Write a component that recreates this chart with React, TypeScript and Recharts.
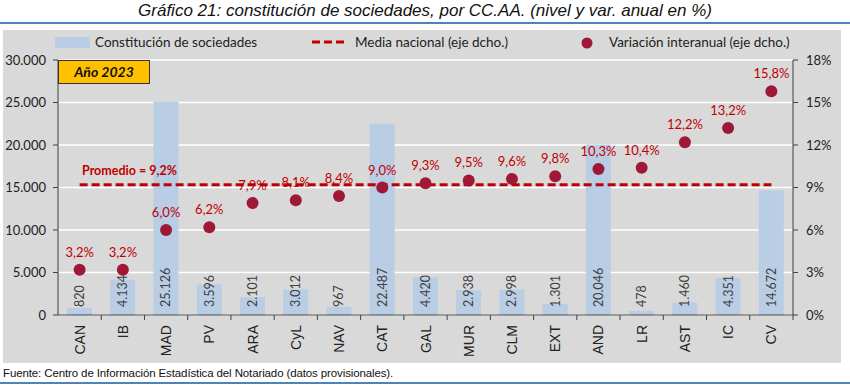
import React from 'react';
import {
  ComposedChart,
  Bar,
  Line,
  XAxis,
  YAxis,
  CartesianGrid,
  LabelList,
} from 'recharts';

const regiones = ['CAN', 'IB', 'MAD', 'PV', 'ARA', 'CyL', 'NAV', 'CAT', 'GAL', 'MUR', 'CLM', 'EXT', 'AND', 'LR', 'AST', 'IC', 'CV'];
const constituciones = [820, 4134, 25126, 3596, 2101, 3012, 967, 22487, 4420, 2938, 2998, 1301, 20046, 478, 1460, 4351, 14672];
const variacion = [3.2, 3.2, 6.0, 6.2, 7.9, 8.1, 8.4, 9.0, 9.3, 9.5, 9.6, 9.8, 10.3, 10.4, 12.2, 13.2, 15.8];
const mediaNacional = 9.2;
const ticksIzq = [0, 5000, 10000, 15000, 20000, 25000, 30000];
const ticksDer = [0, 3, 6, 9, 12, 15, 18];

const data = regiones.map((r, i) => ({
  region: r,
  sociedades: constituciones[i],
  variacion: variacion[i],
  media: mediaNacional,
}));

const RED = '#C00000';
const DOT = '#A01838';
const BAR = '#B9CDE5';
const AXIS = '#404040';
const FONT = 'Lato, "Open Sans", sans-serif';

const miles = (v: number) => String(v).replace(/\B(?=(\d{3})+(?!\d))/g, '.');
const pct = (v: number) => v.toFixed(1).replace('.', ',') + '%';

const XTick = (props: any) => {
  const { x, y, payload } = props;
  const half = payload?.offset ?? 21.6;
  return (
    <g>
      <line x1={x + half} x2={x + half} y1={y} y2={y + 5} stroke={AXIS} strokeWidth={1} />
      <text
        x={x}
        y={y + 10}
        transform={`rotate(-90 ${x} ${y + 10})`}
        textAnchor="end"
        dominantBaseline="central"
        fontSize={14}
        fontFamily="'Liberation Sans', Arial, sans-serif"
        fill="#222"
      >
        {payload.value}
      </text>
    </g>
  );
};

const BarLabel = (props: any) => {
  const { x, y, width, height, value } = props;
  const cx = x + width / 2;
  const by = y + height - 8;
  return (
    <text
      x={cx}
      y={by}
      transform={`rotate(-90 ${cx} ${by})`}
      textAnchor="start"
      dominantBaseline="central"
      fontSize={12.5}
      fontFamily={FONT}
      fill={AXIS}
    >
      {miles(value)}
    </text>
  );
};

const DotLabel = (props: any) => {
  const { x, y, value } = props;
  return (
    <text x={x} y={y - 13} textAnchor="middle" fontSize={13} fontFamily={FONT} fill={RED}>
      {pct(value)}
    </text>
  );
};

export default function App() {
  return (
    <div style={{ position: 'absolute', left: 0, top: 0, width: 850, height: 385, background: '#fff', overflow: 'hidden' }}>
      <div
        style={{
          position: 'absolute', left: 0, top: 1, width: 850, textAlign: 'center',
          fontFamily: "'Liberation Sans', Arial, sans-serif", fontStyle: 'italic', fontSize: 17, color: '#111',
        }}
      >
        Gráfico 21: constitución de sociedades, por CC.AA. (nivel y var. anual en %)
      </div>
      <div style={{ position: 'absolute', left: 0, top: 22, width: 850, height: 2, background: '#4F81BD' }} />

      <div style={{ position: 'absolute', left: 3, top: 30, width: 838, height: 333, background: '#D9D9D9' }} />

      {/* leyenda */}
      <div style={{ position: 'absolute', left: 55, top: 37, width: 35, height: 11, background: BAR }} />
      <div style={{ position: 'absolute', left: 95, top: 34, fontFamily: FONT, fontSize: 13.5, color: '#222' }}>Constitución de sociedades</div>
      <svg style={{ position: 'absolute', left: 310, top: 38 }} width={40} height={8}>
        <line x1={2} x2={38} y1={4} y2={4} stroke={RED} strokeWidth={3} strokeDasharray="8 4" />
      </svg>
      <div style={{ position: 'absolute', left: 355, top: 34, fontFamily: FONT, fontSize: 13.5, color: '#222' }}>Media nacional (eje dcho.)</div>
      <svg style={{ position: 'absolute', left: 581, top: 37 }} width={12} height={12}>
        <circle cx={6} cy={6} r={5.5} fill={DOT} />
      </svg>
      <div style={{ position: 'absolute', left: 609, top: 34, fontFamily: FONT, fontSize: 13.5, color: '#222' }}>Variación interanual (eje dcho.)</div>

      <div style={{ position: 'absolute', left: 3, top: 30 }}>
        <ComposedChart width={838} height={333} data={data} margin={{ top: 30, right: 0, bottom: 0, left: 0 }}>
          <CartesianGrid horizontal vertical={false} stroke="#FFFFFF" strokeWidth={1.5} yAxisId="left" />
          <XAxis
            dataKey="region"
            height={48}
            interval={0}
            tickSize={0}
            tickMargin={0}
            tickLine={false}
            axisLine={{ stroke: AXIS }}
            tick={<XTick />}
          />
          <YAxis
            yAxisId="left"
            width={55}
            domain={[0, 30000]}
            ticks={ticksIzq}
            tickFormatter={miles}
            tickSize={5}
            tickMargin={7}
            axisLine={{ stroke: AXIS }}
            tickLine={{ stroke: AXIS }}
            tick={{ fontSize: 13, fontFamily: FONT, fill: '#222' }}
          />
          <YAxis
            yAxisId="right"
            orientation="right"
            width={48}
            domain={[0, 18]}
            ticks={ticksDer}
            tickFormatter={(v: number) => `${v}%`}
            tickSize={5}
            tickMargin={8}
            axisLine={{ stroke: AXIS }}
            tickLine={{ stroke: AXIS }}
            tick={{ fontSize: 13, fontFamily: FONT, fill: '#222', textAnchor: 'start' }}
          />
          <Bar yAxisId="left" dataKey="sociedades" fill={BAR} barSize={25} isAnimationActive={false}>
            <LabelList dataKey="sociedades" content={<BarLabel />} />
          </Bar>
          <Line
            yAxisId="right"
            dataKey="media"
            stroke={RED}
            strokeWidth={3}
            strokeDasharray="8 4"
            dot={false}
            activeDot={false}
            isAnimationActive={false}
          />
          <Line
            yAxisId="right"
            dataKey="variacion"
            stroke="none"
            strokeWidth={0}
            dot={{ r: 6, fill: DOT, stroke: 'none' }}
            activeDot={false}
            isAnimationActive={false}
          >
            <LabelList dataKey="variacion" content={<DotLabel />} />
          </Line>
        </ComposedChart>
      </div>

      <div
        style={{
          position: 'absolute', left: 58, top: 60, width: 90, height: 22, background: '#FFC000',
          border: '1px solid #333', fontFamily: FONT, fontWeight: 700, fontStyle: 'italic', fontSize: 14,
          lineHeight: '22px', textAlign: 'center', color: '#111', boxSizing: 'content-box',
        }}
      >
        Año 2023
      </div>
      <div
        style={{
          position: 'absolute', left: 82, top: 163, fontFamily: FONT, fontWeight: 700, fontSize: 12.5, color: RED,
        }}
      >
        Promedio = 9,2%
      </div>

      <div
        style={{
          position: 'absolute', left: 3, top: 367, fontFamily: "'Liberation Sans Narrow', 'Arial Narrow', 'Liberation Sans', sans-serif",
          fontSize: 11.5, letterSpacing: -0.12, color: '#111', whiteSpace: 'nowrap',
        }}
      >
        Fuente: Centro de Información Estadística del Notariado (datos provisionales).
      </div>
      <div style={{ position: 'absolute', left: 0, top: 382, width: 850, height: 2, background: '#4F81BD' }} />
    </div>
  );
}
